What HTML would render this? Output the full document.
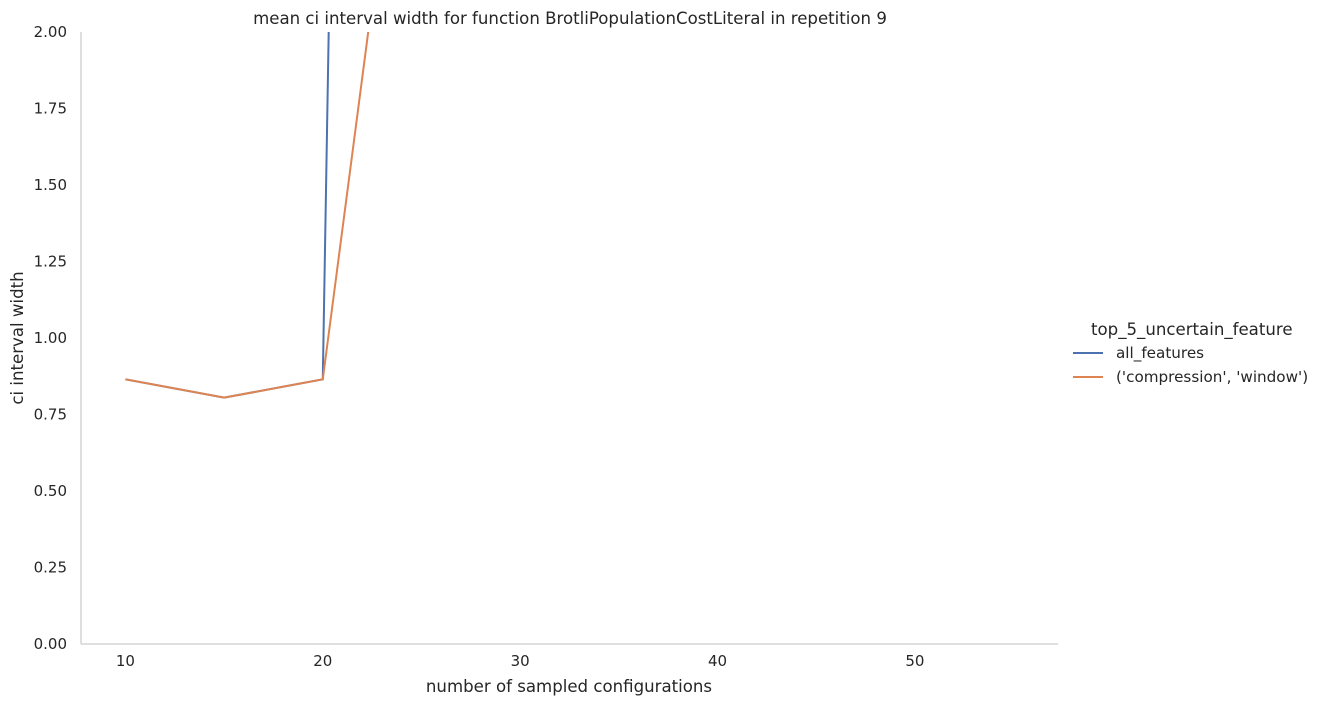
<!DOCTYPE html>
<html><head><meta charset="utf-8"><style>
body{margin:0;background:#fff;font-family:"DejaVu Sans","Liberation Sans",sans-serif;}
svg text{font-family:"DejaVu Sans","Liberation Sans",sans-serif;fill:#262626;}
</style></head><body>
<svg id="chart" width="1323" height="706">
<defs><clipPath id="plotclip"><rect x="81" y="32" width="977" height="612"/></clipPath></defs>
<g id="axes"></g>
<g id="lines" clip-path="url(#plotclip)"></g>
<text x="570" y="24" text-anchor="middle" font-size="16.6">mean ci interval width for function BrotliPopulationCostLiteral in repetition 9</text>
<text x="569" y="692" text-anchor="middle" font-size="16.6">number of sampled configurations</text>
<text x="23" y="338" text-anchor="middle" font-size="16.6" transform="rotate(-90 23 338)">ci interval width</text>
<g>
<text x="1091" y="335" font-size="16.6">top_5_uncertain_feature</text>
<line x1="1073" y1="353" x2="1103" y2="353" stroke="#4c72b0" stroke-width="2"/>
<text x="1116" y="358" font-size="15.2">all_features</text>
<line x1="1073" y1="377" x2="1103" y2="377" stroke="#dd8452" stroke-width="2"/>
<text x="1116" y="382" font-size="15.2">('compression', 'window')</text>
</g>
</svg>
<script>
const xValues = [10, 15, 20, 25, 30, 35, 40, 45, 50, 55];
const allFeatures = [0.865, 0.805, 0.865, 19.8, 20, 20, 20, 20, 20, 20];
const compressionWindow = [0.865, 0.805, 0.865, 3.33, 5, 5, 5, 5, 5, 5];
const xTicks = [10, 20, 30, 40, 50];
const yTicks = [0, 0.25, 0.5, 0.75, 1.0, 1.25, 1.5, 1.75, 2.0];

const X0=81,X1=1058,Y0=644,Y1=32, xmin=7.75,xmax=57.25,ymin=0,ymax=2;
const sx=v=>X0+(v-xmin)/(xmax-xmin)*(X1-X0);
const sy=v=>Y0-(v-ymin)/(ymax-ymin)*(Y0-Y1);
const NS="http://www.w3.org/2000/svg";
const axes=document.getElementById('axes'), lines=document.getElementById('lines');
function mk(t,a,p){const e=document.createElementNS(NS,t);for(const k in a)e.setAttribute(k,a[k]);p.appendChild(e);return e;}
const ya=mk('line',{x1:X0,y1:Y1,x2:X0,y2:Y0,stroke:'#cccccc','stroke-width':1.25},axes);


const xa=mk('line',{x1:X0,y1:Y0,x2:X1,y2:Y0,stroke:'#cccccc','stroke-width':1.25},axes);


xTicks.forEach(t=>{const e=mk('text',{x:sx(t),y:Y0+22,'text-anchor':'middle','font-size':15},axes);e.textContent=t;

});
yTicks.forEach(t=>{const e=mk('text',{x:X0-14,y:sy(t)+5,'text-anchor':'end','font-size':15},axes);e.textContent=t.toFixed(2);

});
function series(vals,color,name){const d=vals.map((v,i)=>(i?'L':'M')+sx(xValues[i])+','+sy(v)).join(' ');
const p=mk('path',{d:d,fill:'none',stroke:color,'stroke-width':2},lines);

}
series(allFeatures,'#4c72b0','line-all-features');
series(compressionWindow,'#dd8452','line-compression-window');
</script>
</body></html>
